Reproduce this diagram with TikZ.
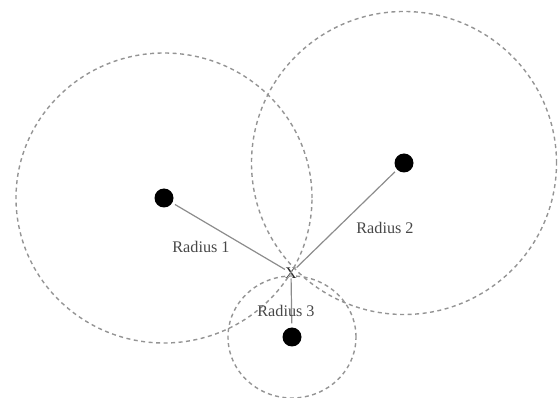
\documentclass[tikz,border=0pt]{standalone}
\usepackage{fontspec}
\setmainfont{Liberation Serif}
\begin{document}
\begin{tikzpicture}[x=1pt,y=-1pt,
  dot/.style={circle,fill=black,inner sep=0pt,minimum size=19pt},
  ring/.style={draw=black!42,dash pattern=on 4pt off 3.5pt,line width=1.4pt},
  radline/.style={draw=black!45,line width=1.2pt},
  lbl/.style={font=\fontsize{16.2}{16}\selectfont,text=black!72,inner sep=1pt}]
\useasboundingbox (0,0) rectangle (558,398);
% centres
\node[dot] (d1) at (164,198) {};
\node[dot] (d2) at (404,163) {};
\node[dot] (d3) at (292,337) {};
\node[lbl,text=black!85,inner sep=0pt] (x) at (291,273) {X};
% dashed circles
\draw[ring] (d1.center) ellipse [x radius=148pt, y radius=145pt];
\draw[ring] (d2.center) ellipse [x radius=152.5pt, y radius=151.5pt];
\draw[ring] (d3.center) ellipse [x radius=64pt, y radius=61pt];
% radii
\draw[radline,shorten <=3pt] (d1) -- (x);
\draw[radline,shorten <=3pt] (d2) -- (x);
\draw[radline,shorten <=4pt] (d3) -- (x);
% labels
\node[lbl] (r1) at (201,247) {Radius 1};
\node[lbl] (r2) at (385,228) {Radius 2};
\node[lbl] (r3) at (286,311) {Radius 3};
\end{tikzpicture}
\end{document}
